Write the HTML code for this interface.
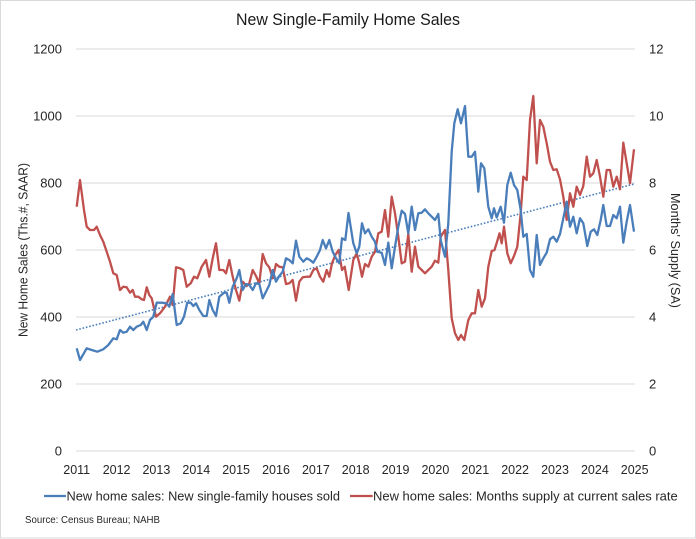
<!DOCTYPE html>
<html><head><meta charset="utf-8"><style>
html,body{margin:0;padding:0;background:#fff;}
svg{display:block;font-family:"Liberation Sans",sans-serif;}
</style></head><body>
<svg width="696" height="539" viewBox="0 0 696 539" xmlns="http://www.w3.org/2000/svg">
<rect x="0.5" y="0.5" width="695" height="537.5" fill="#fff" stroke="#d9d9d9" stroke-width="1"/>
<text x="348" y="25" text-anchor="middle" font-size="16.5" fill="#1a1a1a" textLength="224" lengthAdjust="spacingAndGlyphs">New Single-Family Home Sales</text>
<g stroke="#d9d9d9" stroke-width="1">
<line x1="76" y1="451" x2="635" y2="451"/>
<line x1="76" y1="384" x2="635" y2="384"/>
<line x1="76" y1="317" x2="635" y2="317"/>
<line x1="76" y1="250" x2="635" y2="250"/>
<line x1="76" y1="183" x2="635" y2="183"/>
<line x1="76" y1="116" x2="635" y2="116"/>
<line x1="76" y1="49" x2="635" y2="49"/>
</g>
<g font-size="13" fill="#262626" text-anchor="end">
<text x="62" y="455.5">0</text>
<text x="62" y="388.5">200</text>
<text x="62" y="321.5">400</text>
<text x="62" y="254.5">600</text>
<text x="62" y="187.5">800</text>
<text x="62" y="120.5">1000</text>
<text x="62" y="53.5">1200</text>
</g>
<g font-size="13" fill="#262626" text-anchor="start">
<text x="649" y="455.5">0</text>
<text x="649" y="388.5">2</text>
<text x="649" y="321.5">4</text>
<text x="649" y="254.5">6</text>
<text x="649" y="187.5">8</text>
<text x="649" y="120.5">10</text>
<text x="649" y="53.5">12</text>
</g>
<g font-size="12.5" fill="#262626" text-anchor="middle">
<text x="76.7" y="474">2011</text>
<text x="116.6" y="474">2012</text>
<text x="156.4" y="474">2013</text>
<text x="196.3" y="474">2014</text>
<text x="236.1" y="474">2015</text>
<text x="276" y="474">2016</text>
<text x="315.9" y="474">2017</text>
<text x="355.7" y="474">2018</text>
<text x="395.6" y="474">2019</text>
<text x="435.4" y="474">2020</text>
<text x="475.3" y="474">2021</text>
<text x="515.1" y="474">2022</text>
<text x="555" y="474">2023</text>
<text x="594.9" y="474">2024</text>
<text x="634.7" y="474">2025</text>
</g>
<text transform="translate(27.5,250) rotate(-90)" text-anchor="middle" font-size="13" fill="#262626" textLength="174" lengthAdjust="spacingAndGlyphs">New Home Sales (Ths.#, SAAR)</text>
<text transform="translate(671,250.5) rotate(90)" text-anchor="middle" font-size="13" fill="#262626" textLength="115" lengthAdjust="spacingAndGlyphs">Months' Supply (SA)</text>
<line x1="76" y1="330" x2="634" y2="184" stroke="#4a7ebb" stroke-width="1.6" stroke-dasharray="1.6 1.8"/>
<polyline fill="none" stroke="#c0504d" stroke-width="2.3" stroke-linejoin="round" points="76.7,206.7 80,180 84,210 86.7,226.7 90,230 94,230 96.7,226.7 100,235 103.3,241.7 106.7,251.7 110,261.7 113.3,273.3 116.7,275 120,290 123.3,286.7 126.7,287.3 130,292.7 132.7,290 135,296.7 138.3,296.7 141.7,299.3 144,300 146.7,287.3 149.3,295 151.7,298.3 156,316.7 160,313.3 165,306.7 170,296.7 172.7,305 176,267.3 180,268.3 183.3,270 186.7,286.7 190.7,283.3 194,276.7 197.3,278.3 201.7,266.7 206,260 209.3,276.7 212.7,258.3 216,243.3 219.3,270 223.3,270 226,273.3 229.3,260 232.7,276.7 236,290 239.3,300.7 242.7,281.7 246.7,286 249.3,283.3 252.7,270 256,276 259.3,283.3 262.7,254 266,263.3 269.3,267.3 272.7,278.3 276,264 279.3,266.7 282.7,267.3 286,284 289.3,283.3 292.7,280 296,300.7 299.3,281.7 302.7,277.3 306.7,276.7 310,276.7 313.3,270 316.7,268.3 320,276.7 323.3,281.7 326.7,270 329.3,276.7 332,263.3 335.3,255 338.7,250 342,270 344.7,266.7 348.7,290 353.3,260 356.7,253.3 359.3,263.3 362,276.7 365,264 368.3,266.7 371.7,256.7 375,251.7 378.3,233.3 381.7,231.7 385,210 388.3,236.7 391.7,196.7 395,213.3 398.3,236.7 401.7,263.3 405,261.7 408.3,234 411.7,271.7 415,246.7 418.3,266.7 421.7,270 425,273.3 428.3,270 431.7,266.7 435,260.7 438.3,262.7 440.7,236.7 445,230 448.3,270 451.7,318.3 455,333.3 458.3,340 461,335 464.3,340 468.3,320 471.7,313.3 475,313.3 478.3,290 481.7,306.7 485,298.3 488.3,266.7 491.7,251 494.5,250 497,242 499.5,233.3 501.7,243.3 504,226.7 507.3,253.3 510.7,263.3 514,256 517.3,246.7 520.7,213.3 523.3,176.7 526.7,180 530,120 533.3,96 536.7,163.3 540,120 543.3,126.7 546.7,143.3 550,161.7 553.3,170 556.7,169.3 560,179.3 563.3,196.7 566.7,220 570,193.3 573.3,206.7 576.7,186.7 580,195 583.3,186 586.7,156.7 590,176.7 593.3,173.3 596.7,160 600,176.7 603.3,196.7 606.7,170 610,170 613.3,186.7 616.7,176.7 620,189.3 623.3,142.7 626.7,163.3 630,183.3 634,149.3"/>
<polyline fill="none" stroke="#4a7ebb" stroke-width="2.3" stroke-linejoin="round" points="76.7,348.3 80,360 86.7,348.3 91.7,350 97.3,351.7 103.3,349.3 108.3,345 113.3,338.3 116.7,339.3 120,330 123.3,332.7 126.7,331.7 130,326.7 133.3,330 136.7,326.7 140.7,325 143.3,321.7 146.7,330 150,320 153.3,316.7 156.7,302.7 161.7,302.7 166.7,303.3 169.3,306.7 172.7,294 176.7,325 180.7,323.3 184,316.7 187.3,302.7 190.7,302.7 193.3,306 196,303.3 199.3,310 203.3,316 206.7,316 209.3,300 212.7,310 216,316 219.3,296.7 224,292.7 226.7,292.7 229.3,302.7 232.7,286.7 236.7,278.3 239.3,270 242.7,290 246,284 249.3,285 252.7,290 256,283.3 259.3,284 262.7,298.3 266,291.7 269.3,285 272.7,270 276,281.7 279.3,276 282.7,271.7 286,258.3 289.3,260 292.7,263.3 296,240.7 299.3,256.7 303.3,261.7 306.7,258.3 310,260 313.3,262.7 316.7,256.7 320,250 322.7,240 326,248.3 329.3,240 332.7,251.7 336,258.3 339.3,263.3 342,238.3 345.3,240 348.5,213 353.3,243.3 356.7,253.3 359.3,246.7 362,223.3 365,233.3 368.3,229.3 371.7,236.7 375,241.7 377.3,251.7 381.7,252.7 385,265 388.3,242.7 391.7,268.3 395,246.7 398.3,226.7 401.7,210.7 405,214 408.3,233.3 411.7,206.7 415,230 418.3,213.3 421.7,212.7 425,209.3 428.3,213.3 431.7,216.7 435,220 438.3,214 440.7,240 445,256.7 448.3,223.3 451.7,151.7 454.3,123.3 457.7,109.3 461,123.3 465,106 468.3,156.7 471.7,156.7 475,151.7 478.3,191.7 481,163.3 484.3,168.3 488.3,206.7 491.7,218.3 494,208.3 496.7,217.5 500.7,206.7 504,222.7 507.3,185 510.7,172.7 514,185 517.3,190 520.7,210 523.3,236.7 526.7,234 530,270 533.3,276.7 536.7,235 540,265 543.3,258.3 546.7,252.7 550,239.3 553.3,236.7 556.7,241.7 560,234 563.3,218.3 566.7,201.7 570,226.7 573.3,216.7 576.7,233.3 580,218.3 583.3,223.3 587.3,246 590.7,231.7 594,229.3 597.3,235 600.7,220 603.3,205 606.7,226 610,226 613.3,215 616.7,218.3 620,206.7 623.3,242.7 626.7,221.7 630,205 634,231.7"/>
<line x1="44" y1="496" x2="66" y2="496" stroke="#4a7ebb" stroke-width="2.3"/>
<text x="66.5" y="500.5" font-size="13" fill="#262626" textLength="273.5" lengthAdjust="spacingAndGlyphs">New home sales: New single-family houses sold</text>
<line x1="350" y1="496" x2="372.7" y2="496" stroke="#c0504d" stroke-width="2.3"/>
<text x="373" y="500.5" font-size="13" fill="#262626" textLength="304.7" lengthAdjust="spacingAndGlyphs">New home sales: Months supply at current sales rate</text>
<text x="25" y="523" font-size="10" fill="#262626" textLength="135" lengthAdjust="spacingAndGlyphs">Source: Census Bureau; NAHB</text>
</svg>
</body></html>
